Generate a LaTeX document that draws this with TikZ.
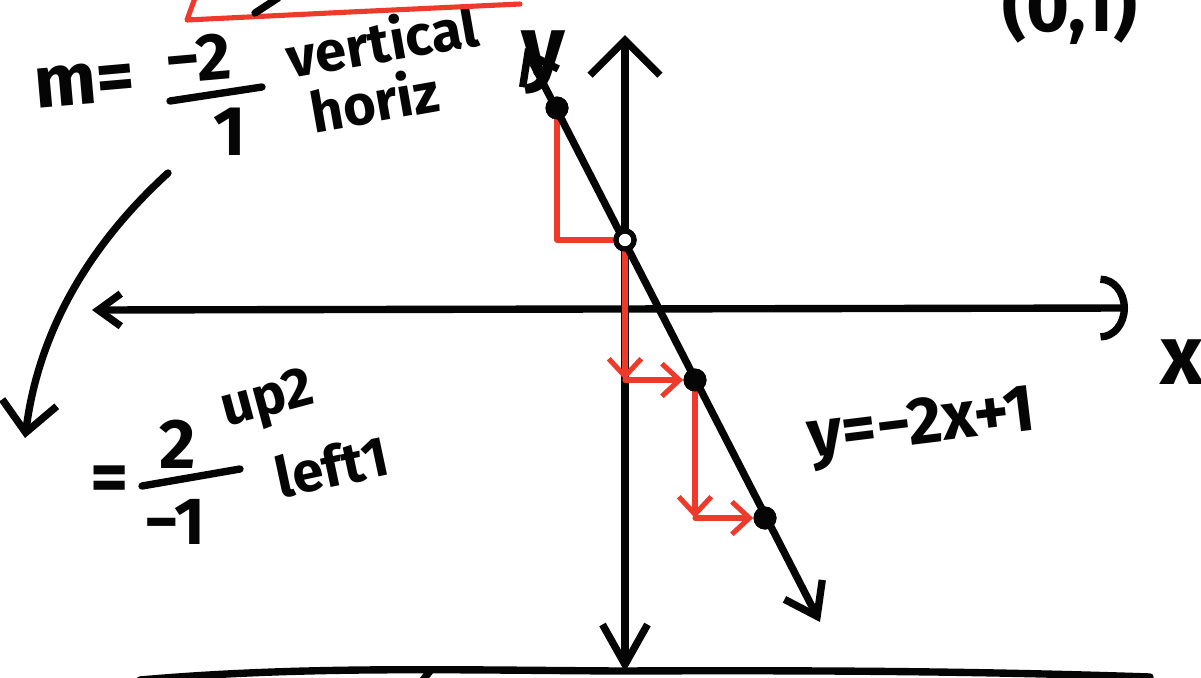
\documentclass[tikz,border=0pt]{standalone}
\usepackage{fontspec}
\setmainfont{Fira Sans}
\usetikzlibrary{arrows.meta}
\definecolor{penRed}{HTML}{EE3A2B}
\definecolor{penInk}{HTML}{050505}

\begin{document}
\begin{tikzpicture}[x=0.02cm, y=-0.02cm,
  ink/.style={line width=4.2pt, line cap=round, line join=round, draw=penInk},
  redink/.style={line width=2.9pt, line cap=round, line join=round, draw=penRed},
  hand/.style={inner sep=0pt, text=penInk, font=\fontsize{32}{34}\selectfont\bfseries},
  bighand/.style={hand, font=\fontsize{42}{44}\selectfont\bfseries},
  dot/.style={circle, fill=penInk, inner sep=0pt, minimum size=0.46cm},
  hole/.style={circle, draw=penInk, line width=3pt, fill=white, inner sep=0pt, minimum size=0.36cm},
  barbboth/.style={{Straight Barb[length=0.55cm, width=0.8cm]}-{Straight Barb[length=0.6cm, width=0.85cm]}},
  redtip/.style={-{Straight Barb[length=0.35cm, width=0.65cm]}}]
  \useasboundingbox (0,0) rectangle (1201,677);

  % axes
  \coordinate (xl) at (92,310);
  \coordinate (xr) at (1128,308);
  \coordinate (yt) at (625,35);
  \coordinate (yb) at (625,672);
  \draw[ink, {Straight Barb[length=0.45cm, width=0.65cm]}-{Arc Barb[length=0.55cm, width=1.3cm]}] (xl) -- (xr);
  \draw[ink, {Straight Barb[length=0.7cm, width=1.4cm]}-{Straight Barb[length=0.8cm, width=0.9cm]}] (yt) -- (yb);
  \node[bighand, font=\fontsize{48}{50}\selectfont\bfseries] (ylab) at (543,62) {y};
  \node[bighand, font=\fontsize{48}{50}\selectfont\bfseries] (xlab) at (1182,362) {x};

  % points on the line
  \node[dot]  (p1) at (557,108) {};
  \node[hole] (p0) at (625,240) {};
  \node[dot]  (p2) at (695,380) {};
  \node[dot]  (p3) at (765,518) {};
  \coordinate (c1) at (557,240);
  \coordinate (c2) at (625,380);
  \coordinate (c3) at (695,518);

  % rise and run steps
  \draw[redink] (p1.center) -- (c1) -- (p0.center);
  \draw[redink, redtip] (p0.center) -- (c2);
  \draw[redink, redtip] (c2) -- (p2.west);
  \draw[redink, redtip] (p2.center) -- (c3);
  \draw[redink, redtip] (c3) -- (p3.west);

  % the line
  \coordinate (ltop) at (525,48);
  \coordinate (lbot) at (820,622);
  \draw[ink, barbboth] (ltop) -- (lbot);
  \node[dot]  at (p1) {};
  \node[hole] at (p0) {};
  \node[dot]  at (p2) {};
  \node[dot]  at (p3) {};
  \node[hand, font=\fontsize{38}{40}\selectfont\bfseries, rotate=7] (eqn) at (922,428) {y=−2x+1};

  % slope notes
  \node[bighand, rotate=5] (mlab) at (85,84) {m=};
  \node[hand, font=\fontsize{38}{40}\selectfont\bfseries, rotate=5] (mtop) at (198,58) {−2};
  \node[hand, font=\fontsize{40}{42}\selectfont\bfseries] (mbot) at (230,132) {1};
  \draw[ink] (170,101) -- (262,87);
  \node[hand, rotate=10] (vert) at (382,40) {vertical};
  \node[hand, rotate=10] (horz) at (374,100) {horiz};

  \coordinate (cstart) at (168,173);
  \coordinate (cend) at (25,438);
  \draw[ink, -{Straight Barb[length=0.6cm, width=1.1cm]}] (cstart) .. controls (100,235) and (40,320) .. (cend);

  \node[bighand] (eq2) at (110,484) {=};
  \node[hand, font=\fontsize{40}{42}\selectfont\bfseries] (ntop) at (178,444) {2};
  \node[hand, font=\fontsize{38}{40}\selectfont\bfseries] (nbot) at (175,522) {−1};
  \draw[ink] (142,486) -- (240,469);
  \node[hand, rotate=15] (up) at (268,402) {up2};
  \node[hand, rotate=12] (left) at (332,466) {left1};

  % bits cut off at the edges
  \node[bighand] (pt) at (1070,6) {(0,1)};
  \draw[redink] (195,-2) -- (187,20) -- (350,12) -- (520,4);
  \draw[ink] (255,13) -- (278,-2);
  \draw[ink] (140,680) .. controls (300,666) and (450,670) .. (620,671) .. controls (850,670) and (1000,672) .. (1150,677);
  \draw[ink] (423,680) -- (430,671);
\end{tikzpicture}
\end{document}
